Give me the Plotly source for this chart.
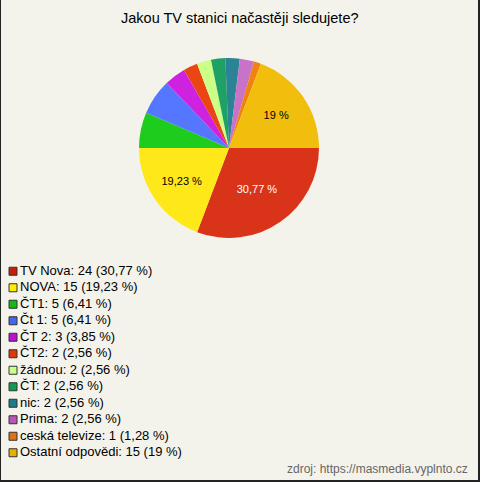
import plotly.graph_objects as go

labels = ["TV Nova", "NOVA", "ČT1", "Čt 1", "ČT 2", "ČT2", "žádnou", "ČT", "nic",
          "Prima", "ceská televize", "Ostatní odpovědi"]
values = [24, 15, 5, 5, 3, 2, 2, 2, 2, 2, 1, 15]
percents = ["30,77", "19,23", "6,41", "6,41", "3,85", "2,56", "2,56", "2,56", "2,56",
            "2,56", "1,28", "19"]
slice_text = ["30,77 %", "19,23 %", "", "", "", "", "", "", "", "", "", "19 %"]
colors = ["#d9341a", "#ffe81a", "#1dcc1d", "#5577ff", "#cf22e0", "#ea4512", "#ccff88",
          "#1fa064", "#2a8495", "#c872c8", "#f08212", "#f2be0e"]
legend_colors = ["#c0200c", "#ffee00", "#11bb11", "#4466ee", "#bb11cc", "#dd3a08",
                 "#ccff88", "#119955", "#1f7a8a", "#bb55bb", "#e07010", "#e8b000"]
text_colors = ["#ffffff"] + ["#000000"] * 11

legend_names = [f"{l}: {v} ({p} %)" for l, v, p in zip(labels, values, percents)]
legend_index = list(range(len(labels)))

W, H = 480, 482
cx, cy, d = 229, 148, 180

fig = go.Figure()
fig.add_trace(go.Pie(
    labels=labels,
    values=values,
    text=slice_text,
    textinfo="text",
    textposition="inside",
    insidetextorientation="horizontal",
    textfont=dict(family="Liberation Sans, Arial", size=11, color=text_colors),
    marker=dict(colors=colors, line=dict(width=0)),
    sort=False,
    direction="clockwise",
    rotation=90,
    hoverinfo="label",
    showlegend=False,
    domain=dict(x=[(cx - d / 2) / W, (cx + d / 2) / W],
                y=[1 - (cy + d / 2) / H, 1 - (cy - d / 2) / H]),
))

# legend drawn as a scatter on hidden axes
fig.add_trace(go.Scatter(
    x=[13] * len(labels), y=legend_index, mode="markers",
    marker=dict(symbol="square", size=8, color=legend_colors,
                line=dict(color="#333333", width=1)),
    hoverinfo="skip", showlegend=False,
))
fig.add_trace(go.Scatter(
    x=[20] * len(labels), y=legend_index, mode="text",
    text=legend_names, textposition="middle right",
    textfont=dict(family="Liberation Sans, Arial", size=13, color="#000000"),
    hoverinfo="skip", showlegend=False,
))

fig.update_layout(
    width=W, height=H,
    margin=dict(l=0, r=0, t=0, b=0, autoexpand=False),
    paper_bgcolor="#f4f3eb",
    plot_bgcolor="rgba(0,0,0,0)",
    font=dict(family="Liberation Sans, Arial", size=12, color="#000000"),
    showlegend=False,
    xaxis=dict(domain=[0, 0.5], range=[0, 240], visible=False, fixedrange=True),
    yaxis=dict(domain=[1 - 461 / H, 1 - 263 / H], range=[11.5, -0.5], visible=False,
               fixedrange=True),
    annotations=[
        dict(text="Jakou TV stanici načastěji sledujete?", x=0.5, y=1 - 18 / H,
             xref="paper", yref="paper", xanchor="center", yanchor="middle",
             showarrow=False, font=dict(size=14.5, color="#000000")),
        dict(text="zdroj: https://masmedia.vyplnto.cz", x=1 - 10 / W, y=1 - 469 / H,
             xref="paper", yref="paper", xanchor="right", yanchor="middle",
             showarrow=False, font=dict(size=12, color="#666666")),
    ],
    shapes=[
        dict(type="line", xref="paper", yref="paper", x0=0, x1=0, y0=0, y1=1,
             line=dict(color="#222222", width=2)),
        dict(type="line", xref="paper", yref="paper", x0=1, x1=1, y0=0, y1=1,
             line=dict(color="#222222", width=4)),
        dict(type="line", xref="paper", yref="paper", x0=0, x1=1, y0=0, y1=0,
             line=dict(color="#222222", width=4)),
    ],
)

fig.write_html("out.html", config={"displayModeBar": False},
               post_script="document.body.style.margin='0';document.body.style.overflow='hidden';")
